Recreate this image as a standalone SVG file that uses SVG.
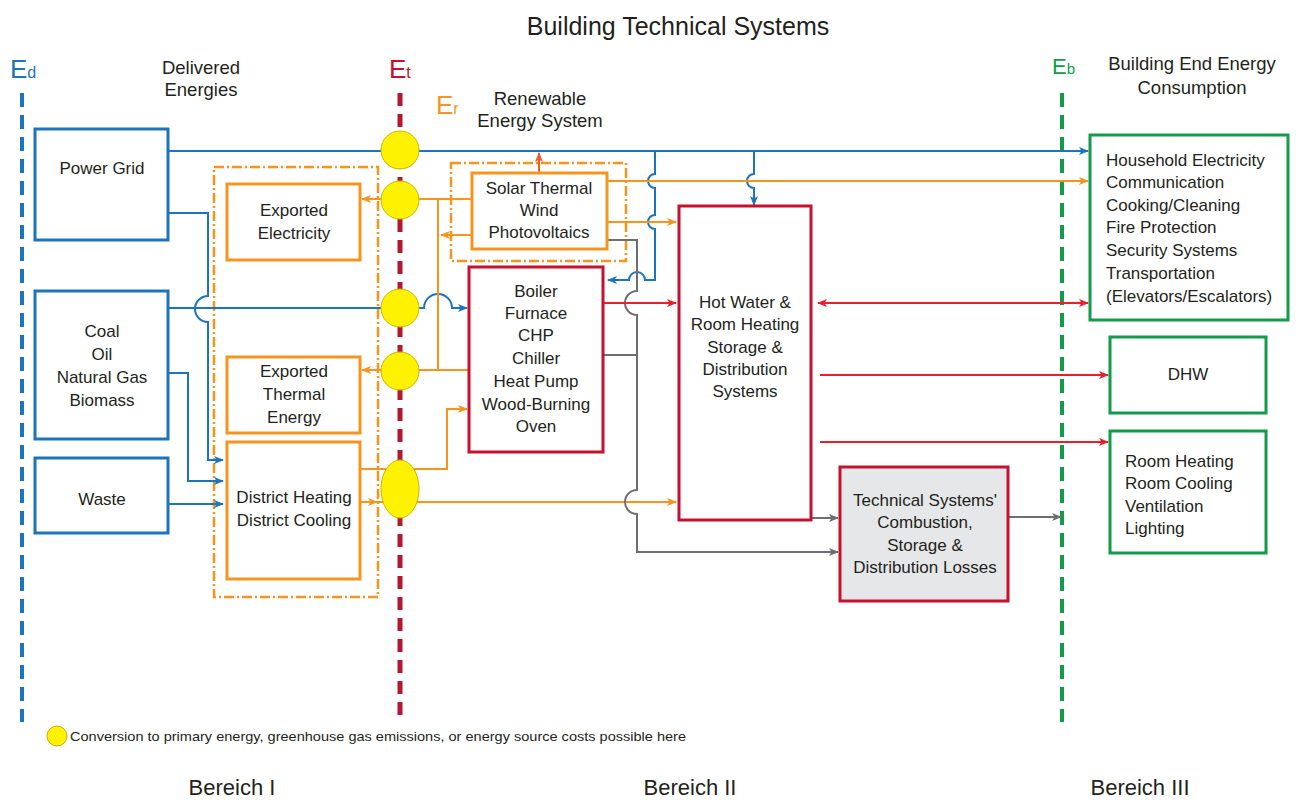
<svg xmlns="http://www.w3.org/2000/svg" width="1300" height="802" viewBox="0 0 1300 802">
<style>
text{font-family:"Liberation Sans",Arial,sans-serif;fill:#231f20}
.bt{font-size:17px;text-anchor:middle}
.bl{font-size:17px}
.hd{font-size:18.5px;text-anchor:middle}
.bx{fill:#fff;stroke-width:3}
.blue{stroke:#1c75bc}
.org{stroke:#f7941d}
.red{stroke:#c8102e}
.grn{stroke:#139a4b}
.c{fill:none;stroke-width:2}
.cb{stroke:#1c75bc}
.co{stroke:#f7941d}
.cr{stroke:#e8202a}
.cg{stroke:#6d6e71}
.yc{fill:#fff200;stroke:#c9b400;stroke-width:1}
.dd{fill:none;stroke:#f7941d;stroke-width:2.5;stroke-dasharray:10 3 2 3}
.br{font-size:22px;text-anchor:middle}
</style>
<defs>
<marker id="ab" viewBox="0 0 10 8" refX="9" refY="4" markerWidth="10" markerHeight="8" markerUnits="userSpaceOnUse" orient="auto-start-reverse"><path d="M0,0 L10,4 L0,8 L2.5,4 z" fill="#1c75bc"/></marker>
<marker id="ao" viewBox="0 0 10 8" refX="9" refY="4" markerWidth="10" markerHeight="8" markerUnits="userSpaceOnUse" orient="auto-start-reverse"><path d="M0,0 L10,4 L0,8 L2.5,4 z" fill="#f7941d"/></marker>
<marker id="aor" viewBox="0 0 10 8" refX="9" refY="4" markerWidth="10" markerHeight="8" markerUnits="userSpaceOnUse" orient="auto-start-reverse"><path d="M0,0 L10,4 L0,8 L2.5,4 z" fill="#ef5a28"/></marker>
<marker id="ar" viewBox="0 0 10 8" refX="9" refY="4" markerWidth="10" markerHeight="8" markerUnits="userSpaceOnUse" orient="auto-start-reverse"><path d="M0,0 L10,4 L0,8 L2.5,4 z" fill="#e8202a"/></marker>
<marker id="ag" viewBox="0 0 10 8" refX="9" refY="4" markerWidth="10" markerHeight="8" markerUnits="userSpaceOnUse" orient="auto-start-reverse"><path d="M0,0 L10,4 L0,8 L2.5,4 z" fill="#6d6e71"/></marker>
</defs>
<rect width="1300" height="802" fill="#fff"/>

<!-- title & headers -->
<text x="678" y="35" style="font-size:25px;text-anchor:middle">Building Technical Systems</text>
<text class="hd" x="201" y="74">Delivered</text>
<text class="hd" x="201" y="96">Energies</text>
<text class="hd" x="540" y="105">Renewable</text>
<text class="hd" x="540" y="127">Energy System</text>
<text class="hd" x="1192" y="70">Building End Energy</text>
<text class="hd" x="1192" y="94">Consumption</text>

<!-- energy boundary lines -->
<g id="boundaries">
<line x1="22" y1="93" x2="22" y2="722" stroke="#1c75bc" stroke-width="4" stroke-dasharray="14 8"/>
<line x1="400" y1="93" x2="400" y2="722" stroke="#b3182f" stroke-width="5" stroke-dasharray="13 8"/>
<line x1="1062" y1="93" x2="1062" y2="722" stroke="#139a4b" stroke-width="4" stroke-dasharray="14 8"/>
<text x="10" y="78" style="font-size:26px;fill:#1c75bc">E<tspan style="font-size:16px">d</tspan></text>
<text x="389" y="78" style="font-size:26px;fill:#c8102e">E<tspan style="font-size:16px">t</tspan></text>
<text x="436" y="114" style="font-size:26px;fill:#f7941d">E<tspan style="font-size:16px">r</tspan></text>
<text x="1052" y="74" style="font-size:22px;fill:#139a4b">E<tspan style="font-size:15px">b</tspan></text>
</g>

<!-- dash-dot system frames -->
<rect class="dd" x="214" y="167" width="164" height="430"/>
<rect class="dd" x="451" y="163" width="175" height="98"/>

<!-- connectors -->
<g id="connectors">
<!-- blue -->
<path class="c cb" d="M168,151 H1088" marker-end="url(#ab)"/>
<path class="c cb" d="M168,213 H208 V296 A13,13 0 0 0 208,322 V460 H223" marker-end="url(#ab)"/>
<path class="c cb" d="M168,308 H424 A14,14 0 0 1 452,308 H467" marker-end="url(#ab)"/>
<path class="c cb" d="M168,373 H188 V481 H223" marker-end="url(#ab)"/>
<path class="c cb" d="M168,504 H223" marker-end="url(#ab)"/>
<path class="c cb" d="M655,151 V174 A7,7 0 0 0 655,188 V215 A7,7 0 0 0 655,229 V280 H645 A8,8 0 0 0 629,280 H608" marker-end="url(#ab)"/>
<path class="c cb" d="M754,151 V174 A7,7 0 0 0 754,188 V205" marker-end="url(#ab)"/>
<!-- orange -->
<path class="c co" d="M607,181 H1088" marker-end="url(#ao)"/>
<path class="c co" d="M607,222 H676" marker-end="url(#ao)"/>
<path class="c co" d="M539,173 V153" marker-end="url(#aor)" style="stroke:#ef5a28"/>
<path class="c co" d="M472,235 H441" marker-end="url(#ao)"/>
<path class="c co" d="M438,199 V370"/>
<path class="c co" d="M472,199 H362" marker-end="url(#ao)"/>
<path class="c co" d="M469,370 H362" marker-end="url(#ao)"/>
<path class="c co" d="M360,469 H447 V409 H467" marker-end="url(#ao)"/>
<path class="c co" d="M360,502 H676" marker-end="url(#ao)"/>
<path class="c co" d="M360,502 H377" marker-end="url(#ao)"/>
<!-- gray -->
<path class="c cg" d="M607,240 H637 V291 A12,12 0 0 0 637,315 V490 A12,12 0 0 0 637,514 V552 H838" marker-end="url(#ag)"/>
<path class="c cg" d="M603,355 H637"/>
<path class="c cg" d="M811,518 H838" marker-end="url(#ag)"/>
<path class="c cg" d="M1008,517 H1061" marker-end="url(#ag)"/>
<!-- red -->
<path class="c cr" d="M603,303 H676" marker-end="url(#ar)"/>
<path class="c cr" d="M818,303 H1088" marker-start="url(#ar)" marker-end="url(#ar)"/>
<path class="c cr" d="M820,375 H1108" marker-end="url(#ar)"/>
<path class="c cr" d="M820,442 H1108" marker-end="url(#ar)"/>
</g>

<!-- conversion points -->
<g id="conversion-points">
<circle class="yc" cx="400" cy="150" r="19"/>
<circle class="yc" cx="400" cy="200" r="19"/>
<circle class="yc" cx="400" cy="308" r="19"/>
<circle class="yc" cx="400" cy="371" r="19"/>
<ellipse class="yc" cx="400" cy="489" rx="19" ry="29"/>
</g>

<!-- nodes -->
<g id="power-grid"><rect class="bx blue" x="35" y="129" width="133" height="111"/><text class="bt" x="102" y="174">Power Grid</text></g>
<g id="fossil"><rect class="bx blue" x="35" y="291" width="133" height="148"/>
<text class="bt" x="102" y="337">Coal</text><text class="bt" x="102" y="360">Oil</text><text class="bt" x="102" y="383">Natural Gas</text><text class="bt" x="102" y="406">Biomass</text></g>
<g id="waste"><rect class="bx blue" x="35" y="458" width="133" height="75"/><text class="bt" x="102" y="505">Waste</text></g>

<g id="exported-electricity"><rect class="bx org" x="227" y="184" width="133" height="76"/>
<text class="bt" x="294" y="216">Exported</text><text class="bt" x="294" y="239">Electricity</text></g>
<g id="exported-thermal"><rect class="bx org" x="227" y="357" width="133" height="76"/>
<text class="bt" x="294" y="377">Exported</text><text class="bt" x="294" y="400">Thermal</text><text class="bt" x="294" y="423">Energy</text></g>
<g id="district"><rect class="bx org" x="227" y="442" width="133" height="137"/>
<text class="bt" x="294" y="503">District Heating</text><text class="bt" x="294" y="526">District Cooling</text></g>

<g id="renewables"><rect class="bx org" x="472" y="173" width="135" height="76"/>
<text class="bt" x="539" y="194">Solar Thermal</text><text class="bt" x="539" y="216">Wind</text><text class="bt" x="539" y="238">Photovoltaics</text></g>

<g id="generators"><rect class="bx red" x="469" y="267" width="134" height="185"/>
<text class="bt" x="536" y="297">Boiler</text><text class="bt" x="536" y="319">Furnace</text><text class="bt" x="536" y="341">CHP</text><text class="bt" x="536" y="364">Chiller</text><text class="bt" x="536" y="387">Heat Pump</text><text class="bt" x="536" y="410">Wood-Burning</text><text class="bt" x="536" y="432">Oven</text></g>

<g id="storage"><rect class="bx red" x="679" y="206" width="132" height="314"/>
<text class="bt" x="745" y="308">Hot Water &amp;</text><text class="bt" x="745" y="330">Room Heating</text><text class="bt" x="745" y="353">Storage &amp;</text><text class="bt" x="745" y="375">Distribution</text><text class="bt" x="745" y="397">Systems</text></g>

<g id="losses"><rect class="bx red" x="840" y="467" width="168" height="134" style="fill:#e6e7e8"/>
<text class="bt" x="925" y="506">Technical Systems'</text><text class="bt" x="925" y="528">Combustion,</text><text class="bt" x="925" y="551">Storage &amp;</text><text class="bt" x="925" y="573">Distribution  Losses</text></g>

<g id="household"><rect class="bx grn" x="1090" y="135" width="198" height="185"/>
<text class="bl" x="1106" y="166">Household Electricity</text><text class="bl" x="1106" y="188">Communication</text><text class="bl" x="1106" y="211">Cooking/Cleaning</text><text class="bl" x="1106" y="233">Fire Protection</text><text class="bl" x="1106" y="256">Security Systems</text><text class="bl" x="1106" y="279">Transportation</text><text class="bl" x="1106" y="302">(Elevators/Escalators)</text></g>
<g id="dhw"><rect class="bx grn" x="1110" y="337" width="156" height="76"/><text class="bt" x="1188" y="380">DHW</text></g>
<g id="room"><rect class="bx grn" x="1110" y="431" width="156" height="122"/>
<text class="bl" x="1125" y="467">Room Heating</text><text class="bl" x="1125" y="489">Room Cooling</text><text class="bl" x="1125" y="512">Ventilation</text><text class="bl" x="1125" y="534">Lighting</text></g>

<!-- legend -->
<g id="legend">
<circle class="yc" cx="57" cy="736" r="10"/>
<text x="70" y="741" style="font-size:13px" textLength="616" lengthAdjust="spacingAndGlyphs">Conversion to primary energy, greenhouse gas emissions, or energy source costs possible here</text>
</g>

<text class="br" x="232" y="795">Bereich I</text>
<text class="br" x="690" y="795">Bereich II</text>
<text class="br" x="1140" y="795">Bereich III</text>
</svg>
